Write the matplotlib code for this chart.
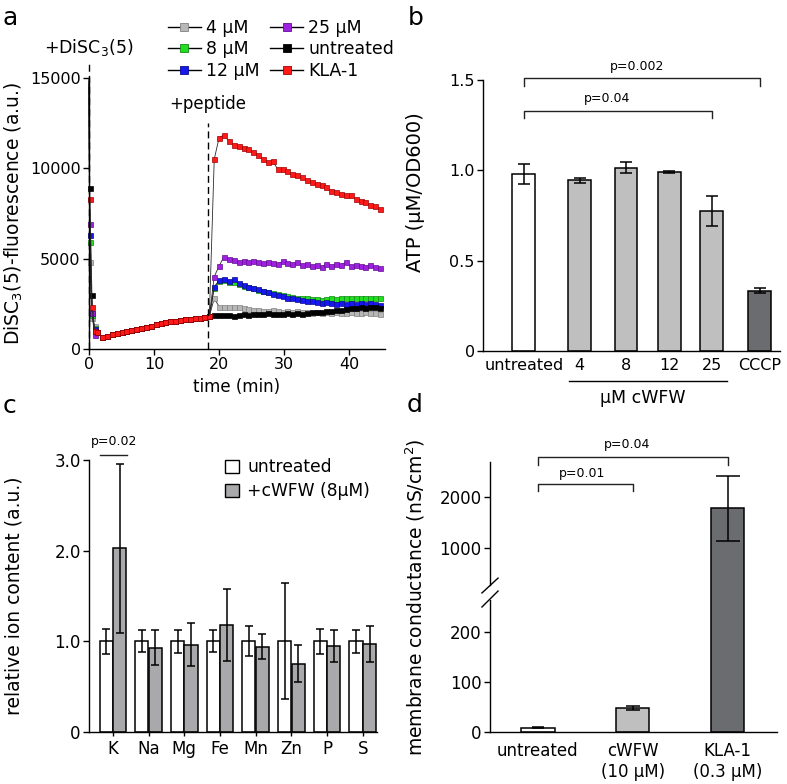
"""
Four-panel figure: membrane potential (DiSC3(5)), ATP levels,
ion content and membrane conductance. Output: out.png
"""
import numpy as np
import matplotlib; matplotlib.use("Agg")
import matplotlib.pyplot as plt
from matplotlib.lines import Line2D
from matplotlib.patches import Patch

plt.rcParams["font.family"] = ["DejaVu Sans"]
plt.rcParams["axes.linewidth"] = 1.0

W, H = 787, 784

# ---------------- panel a: DiSC3(5) fluorescence over time
t_spike = [0.0, 0.1, 0.45, 0.85]
t_pre = [1.25, 2.0, 2.75, 3.5, 4.25, 5.0, 5.75, 6.5, 7.25, 8.0, 8.75, 9.5,
         10.25, 11.0, 11.75, 12.5, 13.25, 14.0, 14.75, 15.5, 16.25, 17.0, 17.75, 18.5]
t_post = [19.25, 20.0, 20.75, 21.5, 22.25, 23.0, 23.75, 24.5, 25.25, 26.0, 26.75,
          27.5, 28.25, 29.0, 29.75, 30.5, 31.25, 32.0, 32.75, 33.5, 34.25, 35.0,
          35.75, 36.5, 37.25, 38.0, 38.75, 39.5, 40.25, 41.0, 41.75, 42.5, 43.25,
          44.0, 44.75]
base_pre = [950, 650, 720, 820, 900, 960, 1000, 1040, 1080, 1150, 1220, 1290,
            1360, 1420, 1480, 1530, 1570, 1610, 1640, 1670, 1700, 1740, 1780, 1820]

spike_4 = [14600, 4800, 1700, 1300]
spike_8 = [14700, 5900, 1900, 1150]
spike_12 = [14700, 6300, 2000, 1100]
spike_25 = [14800, 6900, 2000, 800]
spike_untr = [15000, 8900, 3000, 1000]
spike_kla = [14900, 8300, 2300, 1000]

post_4 = [2800, 2350, 2300, 2350, 2300, 2300, 2250, 2200, 2150, 2150, 2100, 2100,
          2150, 2100, 2050, 2100, 2050, 2100, 2050, 2050, 2000, 2050, 2000, 2050,
          2000, 2050, 2000, 2000, 2050, 2000, 2000, 2050, 2000, 2000, 1950]
post_8 = [3400, 3750, 3800, 3700, 3700, 3600, 3500, 3450, 3350, 3250, 3200, 3150,
          3100, 3050, 3000, 2950, 2900, 2850, 2850, 2800, 2750, 2750, 2700, 2750,
          2800, 2750, 2800, 2850, 2800, 2850, 2800, 2850, 2800, 2850, 2800]
post_12 = [3450, 3800, 3850, 3750, 3850, 3650, 3550, 3450, 3400, 3300, 3200, 3150,
           3050, 3000, 2950, 2850, 2800, 2750, 2700, 2650, 2650, 2600, 2550, 2600,
           2550, 2500, 2550, 2500, 2550, 2500, 2550, 2500, 2550, 2500, 2450]
post_25 = [4000, 4600, 5100, 5000, 4900, 4800, 4850, 4800, 4850, 4800, 4750, 4800,
           4750, 4700, 4850, 4750, 4700, 4800, 4650, 4700, 4600, 4650, 4550, 4700,
           4600, 4700, 4650, 4800, 4600, 4650, 4600, 4550, 4650, 4550, 4500]
post_untr = [1900, 1900, 1900, 1900, 1850, 1900, 1950, 1900, 1950, 1950, 1950, 2000,
             1950, 1950, 1950, 2000, 1950, 2000, 1950, 2000, 2050, 2050, 2050, 2100,
             2100, 2150, 2150, 2200, 2250, 2250, 2300, 2250, 2300, 2300, 2250]
post_kla = [10500, 11700, 11850, 11500, 11300, 11250, 11150, 11050, 10900, 10750,
            10500, 10350, 10400, 9950, 9950, 9850, 9700, 9650, 9500, 9350, 9250,
            9150, 9050, 8950, 8750, 8700, 8600, 8550, 8500, 8300, 8200, 8150, 7950,
            7900, 7750]

t_dye = 0.0
t_peptide = 18.3

# ---------------- panel b: ATP
atp_labels = ["untreated", "4", "8", "12", "25", "CCCP"]
atp_mean = [0.98, 0.945, 1.015, 0.99, 0.775, 0.333]
atp_err = [0.053, 0.013, 0.03, 0.004, 0.085, 0.014]

# ---------------- panel c: ion content
ions = ["K", "Na", "Mg", "Fe", "Mn", "Zn", "P", "S"]
ion_untr = [1.0, 1.0, 1.0, 1.0, 1.0, 1.0, 1.0, 1.0]
ion_untr_err = [0.135, 0.12, 0.13, 0.12, 0.165, 0.64, 0.135, 0.13]
ion_cwfw = [2.025, 0.93, 0.965, 1.178, 0.94, 0.755, 0.95, 0.968]
ion_cwfw_err = [0.93, 0.19, 0.24, 0.40, 0.14, 0.20, 0.18, 0.20]

# ---------------- panel d: membrane conductance
cond_labels = ["untreated", "cWFW\n(10 µM)", "KLA-1\n(0.3 µM)"]
cond_mean = [9, 48, 1785]
cond_err = [1.5, 4.5, 640]

GRAY_L = "#bfbfbf"
GRAY_C = "#a9a9ab"
GRAY_D = "#6b6c70"


def rect(l, r, b, t):
    return [l / W, 1 - b / H, (r - l) / W, (b - t) / H]


def estilo(ax, size=11.5):
    ax.spines["top"].set_visible(False)
    ax.spines["right"].set_visible(False)
    ax.tick_params(direction="out", length=4, width=1, labelsize=size, pad=2)


def bracket(ax, x1, x2, y, h, txt, ty, tx, transform=None):
    tr = transform if transform is not None else ax.transData
    ax.plot([x1, x1, x2, x2], [y - h, y, y, y - h], color="#222", lw=1.0,
            transform=tr, clip_on=False)
    ax.text(tx, ty, txt, ha="center", va="center", fontsize=9, transform=tr)


fig = plt.figure(figsize=(W / 100, H / 100), dpi=100)

# ======================= a
ax = fig.add_axes(rect(89, 385, 349, 78))
estilo(ax)
series = [("4 µM", "#b7b7b7", "#808080", spike_4, post_4),
          ("8 µM", "#22dd22", "#118811", spike_8, post_8),
          ("12 µM", "#1717f0", "#0b0b90", spike_12, post_12),
          ("25 µM", "#a020e0", "#601090", spike_25, post_25),
          ("untreated", "#000000", "#000000", spike_untr, post_untr),
          ("KLA-1", "#ff1a1a", "#a00000", spike_kla, post_kla)]
handles = []
for name, fc, ec, sp, po in series:
    t = t_spike + t_pre + t_post
    y = sp + base_pre + po
    ax.plot(t, y, color="#2a2a2a", lw=0.6, marker="s", ms=3.6, mfc=fc, mec=ec,
            mew=0.5, markevery=list(range(1, len(t))), clip_on=False)
    handles.append(Line2D([], [], color="k", lw=1.0, marker="s", ms=5.5,
                          mfc=fc, mec=ec, mew=0.6, label=name))
ax.plot([t_dye, t_dye], [0, 15900], color="k", lw=1.0, ls=(0, (5, 3)), clip_on=False)
ax.plot([t_peptide, t_peptide], [0, 12500], color="k", lw=1.0, ls=(0, (5, 3)))
ax.text(t_dye, 16700, "+DiSC$_3$(5)", ha="center", va="center", fontsize=12.5)
ax.text(t_peptide, 13550, "+peptide", ha="center", va="center", fontsize=12)
ax.set_xlim(0, 45.5)
ax.set_ylim(0, 15000)
ax.set_xticks([0, 10, 20, 30, 40])
ax.set_yticks([0, 5000, 10000, 15000])
ax.set_xlabel("time (min)", fontsize=12, labelpad=4)
ax.set_ylabel("DiSC$_3$(5)-fluorescence (a.u.)", fontsize=13.5)
ax.yaxis.set_label_coords(-0.215, 0.5)
fig.legend(handles=handles, ncol=2, loc="upper left",
           bbox_to_anchor=(168 / W, 1 - 19 / H), frameon=False, fontsize=12.5,
           handlelength=1.9, handletextpad=0.3, columnspacing=0.6,
           labelspacing=0.2, borderpad=0, borderaxespad=0)

# ======================= b
ax = fig.add_axes(rect(483, 780, 351, 80))
estilo(ax)
bpos = [0, 1.27, 2.32, 3.3, 4.27, 5.36]
bcol = ["white", GRAY_L, GRAY_L, GRAY_L, GRAY_L, GRAY_D]
ax.bar(bpos, atp_mean, width=0.52, color=bcol, edgecolor="k", linewidth=1.1, zorder=2)
ax.errorbar(bpos, atp_mean, yerr=atp_err, fmt="none", ecolor="k", elinewidth=1.1,
            capsize=4.5, capthick=1.1, zorder=3)
ax.set_xlim(-0.93, 5.82)
ax.set_ylim(0, 1.5)
ax.set_yticks([0, 0.5, 1.0, 1.5])
ax.set_yticklabels(["0", "0.5", "1.0", "1.5"])
ax.set_xticks(bpos)
ax.set_xticklabels(atp_labels)
ax.tick_params(axis="x", length=0, pad=5)
ax.plot([bpos[1] - 0.25, bpos[4] + 0.34], [-0.166, -0.166], color="k", lw=1.0,
        clip_on=False)
ax.text(2.7, -0.262, "µM cWFW", ha="center", va="center", fontsize=12.5)
ax.set_ylabel("ATP (µM/OD600)", fontsize=14)
ax.yaxis.set_label_coords(-0.195, 0.587)
bracket(ax, bpos[0], bpos[5], 1.51, 0.043, "p=0.002", 1.572, 2.57)
bracket(ax, bpos[0], bpos[4], 1.328, 0.038, "p=0.04", 1.395, 1.89)

# ======================= c
ax = fig.add_axes(rect(89, 377, 732, 460))
estilo(ax, 12)
x = np.arange(len(ions))
ax.bar(x - 0.19, ion_untr, width=0.37, color="white", edgecolor="k", linewidth=1.1, zorder=2)
ax.bar(x + 0.19, ion_cwfw, width=0.37, color=GRAY_C, edgecolor="k", linewidth=1.1, zorder=2)
ax.errorbar(x - 0.19, ion_untr, yerr=ion_untr_err, fmt="none", ecolor="k",
            elinewidth=1.1, capsize=3, capthick=1.1, zorder=3)
ax.errorbar(x + 0.19, ion_cwfw, yerr=ion_cwfw_err, fmt="none", ecolor="k",
            elinewidth=1.1, capsize=3, capthick=1.1, zorder=3)
ax.set_xlim(-0.67, 7.4)
ax.set_ylim(0, 3.0)
ax.set_yticks([0, 1.0, 2.0, 3.0])
ax.set_yticklabels(["0", "1.0", "2.0", "3.0"])
ax.set_xticks(x)
ax.set_xticklabels(ions)
ax.tick_params(axis="x", length=3, pad=3)
ax.set_ylabel("relative ion content (a.u.)", fontsize=13.5)
ax.yaxis.set_label_coords(-0.229, 0.5)
ax.plot([-0.37, 0.4], [3.05, 3.05], color="#222", lw=1.0, clip_on=False)
ax.text(0.02, 3.2, "p=0.02", ha="center", va="center", fontsize=9)
ax.legend(handles=[Patch(facecolor="white", edgecolor="k", lw=1.0, label="untreated"),
                   Patch(facecolor=GRAY_C, edgecolor="k", lw=1.0, label="+cWFW (8µM)")],
          loc="upper left", bbox_to_anchor=(225 / W, 1 - 458 / H),
          bbox_transform=fig.transFigure, frameon=False, fontsize=12.3,
          handlelength=0.8, handleheight=0.8, handletextpad=0.5,
          labelspacing=0.35, borderpad=0, borderaxespad=0)

# ======================= d
BRK0, BRK1 = 265, 275


def _fwd(y):
    y = np.asarray(y, dtype=float)
    return np.where(y <= BRK0, 0.5 * y,
                    np.where(y <= BRK1, 132.5 + 1.45 * (y - BRK0),
                             147.0 + 0.051 * (y - BRK1)))


def _inv(v):
    v = np.asarray(v, dtype=float)
    return np.where(v <= 132.5, v / 0.5,
                    np.where(v <= 147.0, BRK0 + (v - 132.5) / 1.45,
                             BRK1 + (v - 147.0) / 0.051))


ax = fig.add_axes(rect(490, 777, 732, 462))
estilo(ax, 12)
ax.set_yscale("function", functions=(_fwd, _inv))
dpos = np.arange(len(cond_labels))
ax.bar(dpos, cond_mean, width=0.35, color=["white", GRAY_L, GRAY_D],
       edgecolor="k", linewidth=1.1, zorder=2)
for xp, m, e, cs in zip(dpos, cond_mean, cond_err, [4, 5, 8.3]):
    ax.errorbar([xp], [m], yerr=[e], fmt="none", ecolor="k", elinewidth=1.1,
                capsize=cs, capthick=1.1, zorder=3)
ax.set_xlim(-0.505, 2.52)
ax.set_ylim(0, 2690)
ax.set_yticks([0, 100, 200, 1000, 2000])
ax.set_yticklabels(["0", "100", "200", "1000", "2000"])
ax.set_xticks(dpos)
ax.set_xticklabels(cond_labels)
ax.tick_params(axis="x", length=0, pad=7)
ax.tick_params(axis="y", which="minor", length=0)
ax.spines["left"].set_bounds(0, BRK0)
ax.plot([0, 0], [BRK1, 2690], color="k", lw=1.0,
        transform=ax.get_yaxis_transform(), clip_on=False)
ax.plot([-0.028, 0.028], [0.515, 0.570], color="k", lw=1.0,
        transform=ax.transAxes, clip_on=False)
ax.plot([-0.028, 0.028], [0.463, 0.522], color="k", lw=1.0,
        transform=ax.transAxes, clip_on=False)
ax.set_ylabel("membrane conductance (nS/cm$^2$)", fontsize=13.5)
ax.yaxis.set_label_coords(-0.22, 0.5)
trd = ax.get_xaxis_transform()
bracket(ax, dpos[0], dpos[2], 1.019, 0.03, "p=0.04", 1.063, 0.94, transform=trd)
bracket(ax, dpos[0], dpos[1], 0.919, 0.026, "p=0.01", 0.959, 0.47, transform=trd)

# panel letters
for letra, lx, ly in [("a", 3, 25), ("b", 408, 25), ("c", 3, 413), ("d", 407, 412)]:
    fig.text(lx / W, 1 - ly / H, letra, fontsize=18, va="baseline", ha="left")

fig.savefig("out.png", dpi=100)
